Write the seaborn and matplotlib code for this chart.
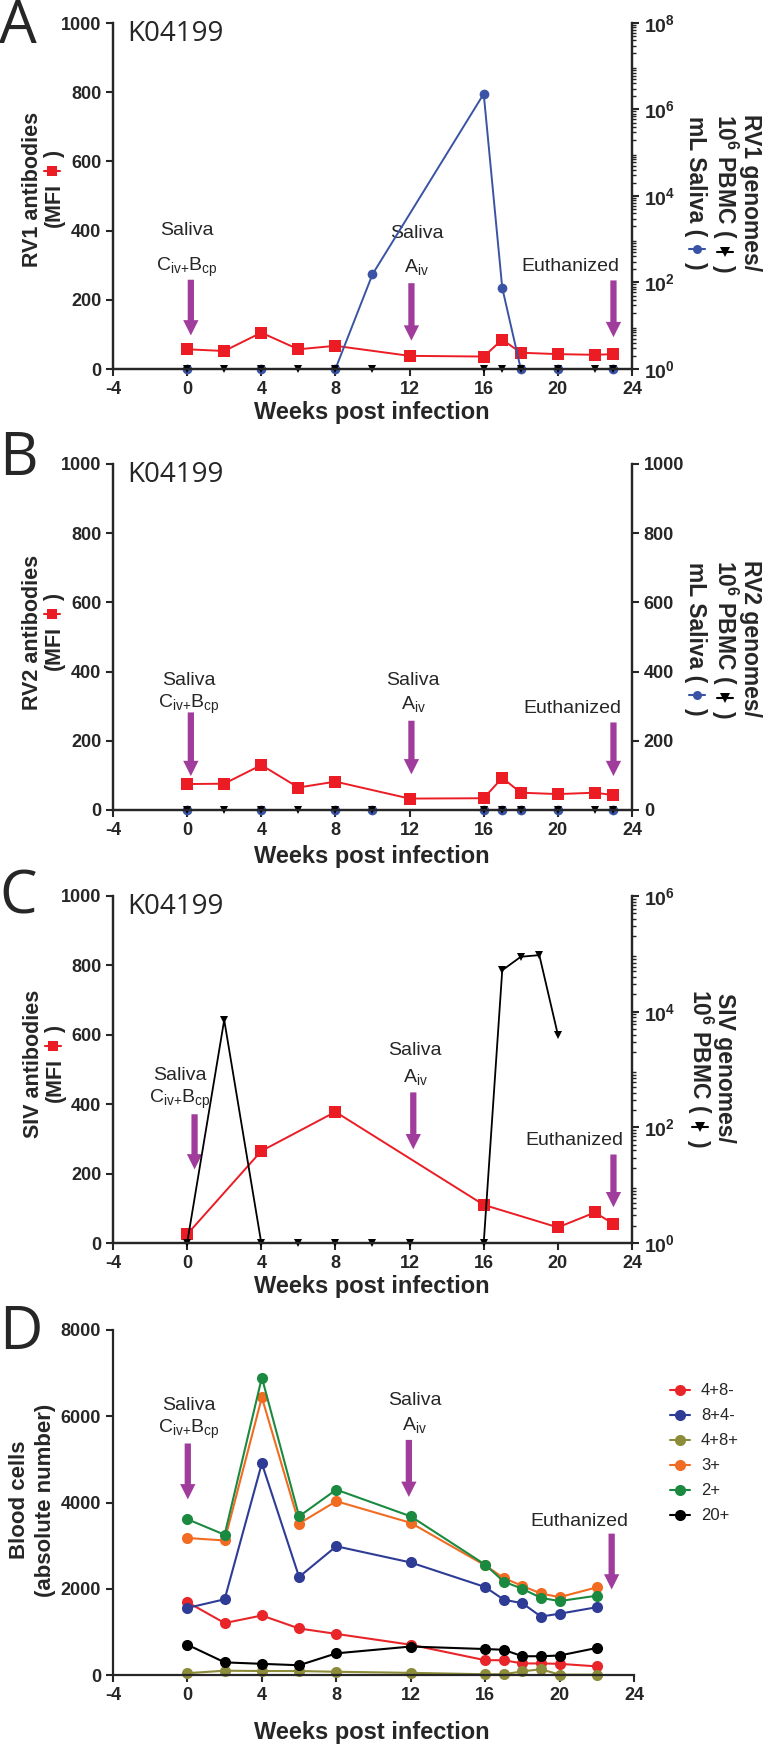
import numpy as np
import pandas as pd
import seaborn as sns
import matplotlib.pyplot as plt
from matplotlib.lines import Line2D
from matplotlib.ticker import FixedLocator, LogLocator, NullFormatter

# ---- data ----
weeks_ab = [0, 2, 4, 6, 8, 12, 16, 17, 18, 20, 22, 23]
rv1_mfi = [57, 52, 105, 57, 67, 38, 36, 85, 47, 43, 41, 43]
rv2_mfi = [75, 76, 130, 65, 82, 33, 34, 93, 50, 46, 50, 43]

weeks_pbmc = [0, 2, 4, 6, 8, 10, 16, 17, 18, 20, 22, 23]
rv1_pbmc = [1, 1, 1, 1, 1, 1, 1, 1, 1, 1, 1, 1]
rv2_pbmc = [0, 0, 0, 0, 0, 0, 0, 0, 0, 0, 0, 0]

weeks_saliva = [0, 4, 8, 10, 16, 17, 18, 20, 23]
rv1_saliva = [1, 1, 1, 155, 2.3e6, 75, 1, 1, 1]
rv2_saliva = [0, 0, 0, 0, 0, 0, 0, 0, 0]

weeks_siv_ab = [0, 4, 8, 16, 20, 22, 23]
siv_mfi = [25, 265, 378, 110, 45, 88, 55]
weeks_siv_pbmc = [0, 2, 4, 6, 8, 10, 12, 16, 17, 18, 19, 20]
siv_pbmc = [1, 7200, 1, 1, 1, 1, 1, 1, 52000, 89000, 95000, 4000]

weeks_cells = [0, 2, 4, 6, 8, 12, 16, 17, 18, 19, 20, 22]
cell_subsets = ["4+8-", "8+4-", "4+8+", "3+", "2+", "20+"]
cd4 = [1690, 1204, 1380, 1079, 953, 702, 343, 343, 268, 268, 259, 200]
cd8 = [1555, 1756, 4908, 2274, 2985, 2609, 2040, 1747, 1664, 1355, 1421, 1572]
cd4cd8 = [42, 100, 92, 92, 75, 50, 17, 17, 84, 134, 8, 8]
cd3 = [3177, 3119, 6438, 3512, 4030, 3528, 2542, 2249, 2065, 1890, 1806, 2032]
cd2 = [3612, 3252, 6898, 3679, 4298, 3679, 2559, 2166, 1998, 1789, 1714, 1839]
cd20 = [702, 293, 259, 226, 502, 660, 602, 585, 435, 435, 452, 627]

RED = "#ec1c24"
BLUE = "#3a53a4"
PURPLE = "#a03c9c"
cell_colors = ["#e8262a", "#2e3c96", "#8c8c3a", "#f26b22", "#1b8a40", "#000000"]

W, H = 766, 1746
NARROW = ["Liberation Sans Narrow", "Liberation Sans", "DejaVu Sans"]
ARIAL = ["Liberation Sans", "DejaVu Sans"]
THIN = ["Open Sans", "DejaVu Sans"]

sns.set_style("ticks")
plt.rcParams["font.family"] = NARROW
plt.rcParams["mathtext.fontset"] = "custom"
plt.rcParams["mathtext.rm"] = "Liberation Sans"
plt.rcParams["mathtext.bf"] = "Liberation Sans:bold"
plt.rcParams["mathtext.default"] = "regular"
plt.rcParams["axes.linewidth"] = 1.6
plt.rcParams["axes.unicode_minus"] = False

fig = plt.figure(figsize=(W / 100, H / 100), dpi=100)
renderer = fig.canvas.get_renderer()


def px_axes(top, bottom, left=113, right=632):
    return fig.add_axes([left / W, 1 - bottom / H, (right - left) / W, (bottom - top) / H])


def text_len(s, fs):
    t = fig.text(0, 0, s, fontsize=fs, fontweight="bold", family=ARIAL)
    w = t.get_window_extent(renderer).width
    t.remove()
    return w


def rot_label(cols, cy, lines, rot, fs):
    """Rotated multi-line axis label; pieces are strings or (marker, colour) glyphs.
    rot=270 reads top->bottom, rot=90 reads bottom->top."""
    em = fs * 100 / 72
    icon_len = 1.15 * em
    step = 1 if rot == 270 else -1
    for col, pieces in zip(cols, lines):
        sizes = [text_len(p, fs) if isinstance(p, str) else icon_len for p in pieces]
        total = sum(sizes)
        pos = cy - step * total / 2
        base = col - step * 0.35 * em
        for p, s in zip(pieces, sizes):
            mid = pos + step * s / 2
            if isinstance(p, str):
                fig.text(base / W, 1 - mid / H, p, rotation=rot, rotation_mode="anchor",
                         ha="center", va="baseline", fontsize=fs, fontweight="bold",
                         family=ARIAL)
            else:
                fig.add_artist(Line2D([(col - 8) / W, (col + 8) / W], [1 - mid / H, 1 - mid / H],
                                      color=p[1], lw=1.5, transform=fig.transFigure))
                fig.add_artist(Line2D([col / W], [1 - mid / H], color=p[1], marker=p[0],
                                      markersize=6.5, markeredgewidth=0,
                                      transform=fig.transFigure))
            pos = pos + step * s


def style_left(ax, ymax, step):
    ax.set_xlim(-4, 24)
    ax.set_ylim(0, ymax)
    ax.xaxis.set_major_locator(FixedLocator(range(-4, 25, 4)))
    ax.yaxis.set_major_locator(FixedLocator(range(0, ymax + 1, step)))
    ax.tick_params(direction="out", length=5, width=1.5, labelsize=13)
    for lab in ax.get_xticklabels() + ax.get_yticklabels():
        lab.set_fontweight("bold")
    ax.spines["top"].set_visible(False)
    ax.set_xlabel("")
    ax.set_ylabel("")


def log_right(ax, top_pow):
    ax.set_ylim(1, 10.0 ** top_pow)
    pows = list(range(0, top_pow + 1, 2))
    ax.yaxis.set_major_locator(FixedLocator([10.0 ** p for p in pows]))
    ax.set_yticklabels([r"$\mathbf{10^{%d}}$" % p for p in pows])
    ax.yaxis.set_minor_locator(LogLocator(base=10, subs=np.arange(2, 10), numticks=20))
    ax.yaxis.set_minor_formatter(NullFormatter())
    ax.tick_params(axis="y", which="major", length=5, width=1.5, labelsize=14)
    ax.tick_params(axis="y", which="minor", length=3, width=1.0)
    ax.spines["top"].set_visible(False)
    ax.set_ylabel("")


def arrow(ax, x, top, tip):
    ax.annotate("", xy=(x, tip), xytext=(x, top),
                arrowprops=dict(facecolor=PURPLE, edgecolor="none", width=4.5,
                                headwidth=11, headlength=11, shrink=0))


def annotate_events(ax, saliva1, saliva2, euth, xs=(0.2, 12.1, 23)):
    fs = 14
    ax.text(saliva1[0], saliva1[1], "Saliva", ha="center", va="center", fontsize=fs)
    ax.text(saliva1[0], saliva1[2], "C$_{iv{+}}$B$_{cp}$", ha="center", va="center", fontsize=fs)
    arrow(ax, xs[0], saliva1[3], saliva1[4])
    ax.text(saliva2[0], saliva2[1], "Saliva", ha="center", va="center", fontsize=fs)
    ax.text(saliva2[0], saliva2[2], "A$_{iv}$", ha="center", va="center", fontsize=fs)
    arrow(ax, xs[1], saliva2[3], saliva2[4])
    ax.text(euth[0], euth[1], "Euthanized", ha="center", va="center", fontsize=fs)
    arrow(ax, xs[2], euth[2], euth[3])


def panel_letter(letter, baseline):
    fig.text(-1 / W, 1 - baseline / H, letter, fontsize=43, family=THIN, va="baseline", ha="left")


def sample_id(ax):
    ax.text(0.028, 0.968, "K04199", transform=ax.transAxes, fontsize=20, family=THIN,
            va="center", ha="left")


def xlabel(y):
    fig.text(372 / W, 1 - y / H, "Weeks post infection", fontsize=17, fontweight="bold",
             ha="center", va="center")


mk = dict(clip_on=False, markeredgewidth=0)
LFS, RFS = 15.5, 16.5

# ---------------- Panel A ----------------
axA = px_axes(23, 369)
sns.lineplot(x=weeks_ab, y=rv1_mfi, ax=axA, color=RED, marker="s", markersize=8, lw=1.4,
             zorder=5, **mk)
style_left(axA, 1000, 200)
axA2 = axA.twinx()
axA2.set_yscale("log")
sns.lineplot(x=weeks_saliva, y=rv1_saliva, ax=axA2, color=BLUE, marker="o", markersize=7,
             lw=1.4, **mk)
sns.lineplot(x=weeks_pbmc, y=rv1_pbmc, ax=axA2, color="black", marker="v", markersize=6,
             lw=1.2, **mk)
log_right(axA2, 8)
annotate_events(axA, (0, 401, 295, 258, 97), (12.4, 391, 295, 248, 82), (20.7, 295, 256, 92))
sample_id(axA)
panel_letter("A", 43)
xlabel(413)
rot_label([30, 52], 189, [["RV1 antibodies"], ["(MFI", ("s", RED), ")"]], 90, LFS)
rot_label([752, 725, 697], 193,
          [["RV1 genomes/"], ["10$^{\\mathbf{6}}$ PBMC (", ("v", "black"), ")"],
           ["mL Saliva (", ("o", BLUE), ")"]], 270, RFS)

# ---------------- Panel B ----------------
axB = px_axes(464, 810)
sns.lineplot(x=weeks_ab, y=rv2_mfi, ax=axB, color=RED, marker="s", markersize=8, lw=1.4,
             zorder=5, **mk)
style_left(axB, 1000, 200)
axB2 = axB.twinx()
sns.lineplot(x=weeks_saliva, y=rv2_saliva, ax=axB2, color=BLUE, marker="o", markersize=7,
             lw=1.4, **mk)
sns.lineplot(x=weeks_pbmc, y=rv2_pbmc, ax=axB2, color="black", marker="v", markersize=6,
             lw=1.2, **mk)
axB2.set_ylim(0, 1000)
axB2.yaxis.set_major_locator(FixedLocator(range(0, 1001, 200)))
axB2.tick_params(axis="y", length=5, width=1.5, labelsize=13)
for lab in axB2.get_yticklabels():
    lab.set_fontweight("bold")
axB2.spines["top"].set_visible(False)
axB2.set_ylabel("")
annotate_events(axB, (0.1, 374, 306, 282, 98), (12.2, 374, 306, 258, 103), (20.8, 292, 253, 98))
sample_id(axB)
panel_letter("B", 475)
xlabel(856)
rot_label([30, 52], 632, [["RV2 antibodies"], ["(MFI", ("s", RED), ")"]], 90, LFS)
rot_label([752, 725, 697], 639,
          [["RV2 genomes/"], ["10$^{\\mathbf{6}}$ PBMC (", ("v", "black"), ")"],
           ["mL Saliva (", ("o", BLUE), ")"]], 270, RFS)

# ---------------- Panel C ----------------
axC = px_axes(896, 1243)
sns.lineplot(x=weeks_siv_ab, y=siv_mfi, ax=axC, color=RED, marker="s", markersize=8, lw=1.4,
             zorder=5, **mk)
style_left(axC, 1000, 200)
axC2 = axC.twinx()
axC2.set_yscale("log")
sns.lineplot(x=weeks_siv_pbmc, y=siv_pbmc, ax=axC2, color="black", marker="v", markersize=6,
             lw=1.3, **mk)
log_right(axC2, 6)
annotate_events(axC, (-0.4, 482, 414, 371, 212), (12.3, 554, 477, 434, 270), (20.9, 294, 255, 103),
                xs=(0.4, 12.2, 23))
sample_id(axC)
panel_letter("C", 913)
xlabel(1287)
rot_label([31, 53], 1064, [["SIV antibodies"], ["(MFI", ("s", RED), ")"]], 90, LFS)
rot_label([726, 700], 1068,
          [["SIV genomes/"], ["10$^{\\mathbf{6}}$ PBMC (", ("v", "black"), ")"]], 270, RFS)

# ---------------- Panel D ----------------
axD = px_axes(1330, 1675, right=634)
cells = pd.DataFrame({
    "week": weeks_cells * 6,
    "count": cd4 + cd8 + cd4cd8 + cd3 + cd2 + cd20,
    "subset": [s for s in cell_subsets for _ in weeks_cells],
})
sns.lineplot(data=cells, x="week", y="count", hue="subset", hue_order=cell_subsets,
             palette=dict(zip(cell_subsets, cell_colors)), marker="o", markersize=8,
             lw=1.5, ax=axD, **mk)
style_left(axD, 8000, 2000)
axD.spines["right"].set_visible(False)
annotate_events(axD, (0.07, 6246, 5702, 5368, 4072), (12.2, 6371, 5803, 5452, 4130),
                (21.05, 3570, 3278, 1982), xs=(0.02, 11.9, 22.8))
leg = axD.legend(loc="upper left", bbox_to_anchor=((670 - 113) / 521, 0.845), frameon=False,
                 fontsize=12, handlelength=1.2, labelspacing=0.6, handletextpad=0.65,
                 borderaxespad=0, borderpad=0)
for t in leg.get_texts():
    t.set_family(ARIAL)
panel_letter("D", 1349)
xlabel(1732)
rot_label([17, 43], 1500, [["Blood cells"], ["(absolute number)"]], 90, 16)

fig.savefig("out.png", dpi=100)
